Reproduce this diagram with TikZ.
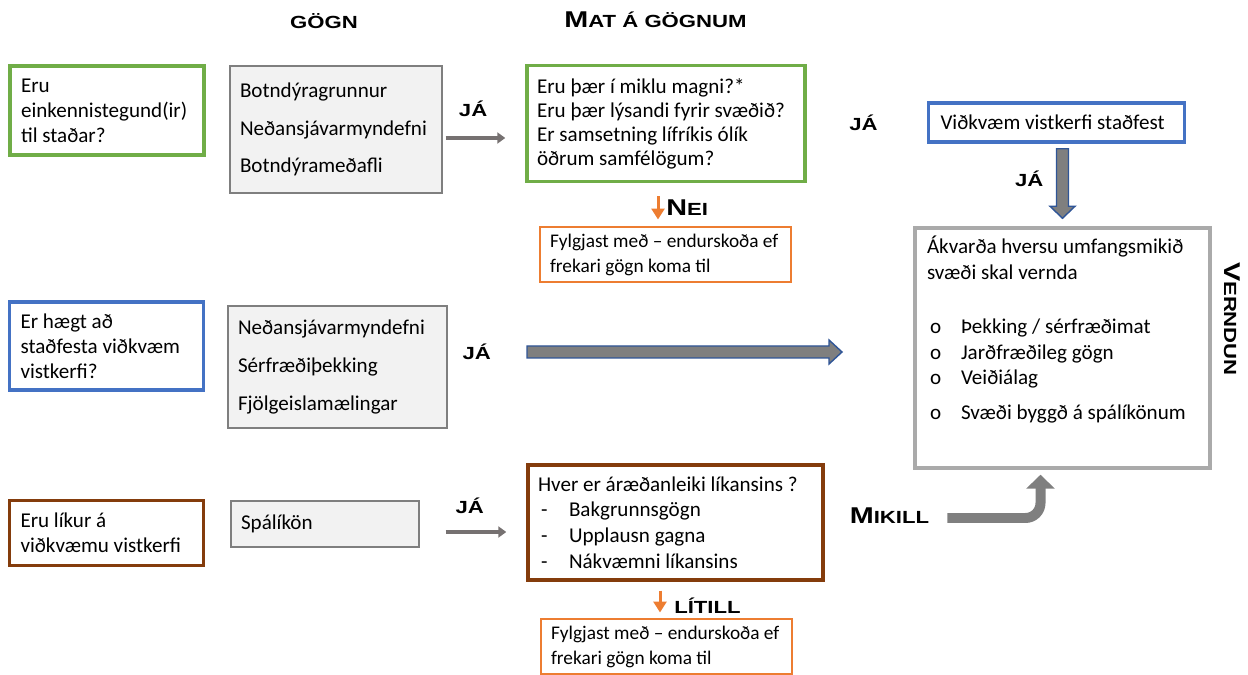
\documentclass[tikz,border=0pt]{standalone}
\usepackage{fontspec}
\setmainfont{Carlito}
\newfontfamily\capsfont[FakeStretch=1.26]{Liberation Sans}
\usetikzlibrary{arrows.meta,positioning,calc}

\definecolor{qgreen}{HTML}{70AD47}
\definecolor{qblue}{HTML}{4472C4}
\definecolor{qbrown}{HTML}{843C0C}
\definecolor{qorange}{HTML}{ED7D31}
\definecolor{dfill}{HTML}{F2F2F2}
\definecolor{dline}{HTML}{7F7F7F}
\definecolor{vgray}{HTML}{AAAAAA}
\definecolor{agray}{HTML}{767171}
\definecolor{bgray}{HTML}{7F7F7F}
\definecolor{bblue}{HTML}{2F5597}

\newcommand{\capbig}[1]{{\fontsize{13}{13}\selectfont #1}}

\tikzset{
  txt/.style={font=\fontsize{12}{14.2}\selectfont},
  qbox/.style={draw, line width=0.07cm, align=flush left, inner xsep=0.2cm, inner ysep=0pt, txt},
  databox/.style={draw=dline, fill=dfill, line width=0.6pt, align=flush left, inner xsep=0.2cm, inner ysep=0pt, font=\fontsize{12}{21.5}\selectfont},
  watchbox/.style={draw=qorange, line width=0.04cm, align=flush left, inner xsep=0.2cm, inner ysep=0pt, font=\fontsize{11}{14.2}\selectfont, text width=4.62cm, minimum height=1.12cm},
  lbl/.style={font=\capsfont\bfseries\fontsize{10}{12}\selectfont, inner sep=1pt},
  yesarrow/.style={draw=agray, line width=0.08cm, -{Triangle[width=0.22cm,length=0.16cm]}},
  noarrow/.style={draw=qorange, line width=0.06cm, -{Triangle[width=0.26cm,length=0.22cm]}},
  blockh/.style={draw=bblue, fill=bgray, line width=0.8pt,
    to path={($(\tikztostart)+(0,-6)$) -- ($(\tikztotarget)+(-13,-6)$) -- ($(\tikztotarget)+(-13,-12)$) -- (\tikztotarget)
      -- ($(\tikztotarget)+(-13,12)$) -- ($(\tikztotarget)+(-13,6)$) -- ($(\tikztostart)+(0,6)$) -- cycle}},
  blockv/.style={draw=bblue, fill=bgray, line width=0.8pt,
    to path={($(\tikztostart)+(-6,0)$) -- ($(\tikztotarget)+(-6,-12)$) -- ($(\tikztotarget)+(-12.5,-12)$) -- (\tikztotarget)
      -- ($(\tikztotarget)+(12.5,-12)$) -- ($(\tikztotarget)+(6,-12)$) -- ($(\tikztostart)+(6,0)$) -- cycle}},
  bentarrow/.style={draw=bgray, line width=0.2cm, rounded corners=0.3cm, -{Triangle[width=0.56cm,length=0.28cm]}},
}

\begin{document}
\begin{tikzpicture}[x=0.02cm, y=-0.02cm]
\useasboundingbox (0,0) rectangle (1248,675);

\node[lbl] (hdata) at (324,21) {GÖGN};
\node[lbl] (heval) at (655.5,20) {\capbig{M}AT Á GÖGNUM};

\node[qbox, draw=qgreen, text width=3.44cm, minimum height=1.78cm, inner xsep=0.22cm] (q1) at (107,110.5) {Eru\\einkennistegund(ir)\\til staðar?};
\node[databox, text width=3.84cm, minimum height=2.54cm] (d1) at (336,129.5) {Botndýragrunnur\\Neðansjávarmyndefni\\Botndýrameðafli};
\node[qbox, draw=qgreen, text width=5.16cm, minimum height=2.32cm, font=\fontsize{12}{13.7}\selectfont] (e1) at (666,123.5) {Eru þær í miklu magni?*\\Eru þær lýsandi fyrir svæðið?\\Er samsetning lífríkis ólík\\öðrum samfélögum?};
\node[watchbox] (f1) at (665.5,254.5) {Fylgjast með – endurskoða ef\\frekari gögn koma til};
\node[qbox, draw=qblue, text width=4.64cm, minimum height=0.78cm, inner xsep=0.24cm] (v) at (1056.5,122.5) {Viðkvæm vistkerfi staðfest};
\node[draw=vgray, line width=0.07cm, inner xsep=0.24cm, inner ysep=0.16cm, font=\fontsize{12}{14.5}\selectfont] (vn) at (1062.5,348) {\parbox[c][4.48cm][t]{5.42cm}{\raggedright
  Ákvarða hversu umfangsmikið\\
  svæði skal vernda\\[0.58cm]
  \hspace*{0.06cm}\makebox[0.62cm][l]{o}Þekking / sérfræðimat\\
  \hspace*{0.06cm}\makebox[0.62cm][l]{o}Jarðfræðileg gögn\\
  \hspace*{0.06cm}\makebox[0.62cm][l]{o}Veiðiálag\\[0.2cm]
  \hspace*{0.06cm}\makebox[0.62cm][l]{o}Svæði byggð á spálíkönum}};
\node[lbl, rotate=-90] (hprot) at (1232,319) {\capbig{V}ERNDUN};

\node[qbox, draw=qblue, text width=3.44cm, minimum height=1.76cm, inner xsep=0.22cm] (q2) at (106.5,346) {Er hægt að\\staðfesta viðkvæm\\vistkerfi?};
\node[databox, text width=3.98cm, minimum height=2.44cm] (d2) at (337.5,367) {Neðansjávarmyndefni\\Sérfræðiþekking\\Fjölgeislamælingar};

\node[qbox, draw=qbrown, line width=0.06cm, text width=3.44cm, minimum height=1.32cm, inner xsep=0.22cm] (q3) at (106.5,533) {Eru líkur á\\viðkvæmu vistkerfi};
\node[databox, text width=3.36cm, minimum height=0.92cm] (d3) at (325,524) {Spálíkön};
\node[qbox, draw=qbrown, text width=5.5cm, minimum height=2.3cm, font=\fontsize{12}{14.6}\selectfont] (e3) at (675.5,522.5) {Hver er áræðanleiki líkansins ?\\
  \hspace*{0.06cm}\makebox[0.56cm][l]{-}Bakgrunnsgögn\\
  \hspace*{0.06cm}\makebox[0.56cm][l]{-}Upplausn gagna\\
  \hspace*{0.06cm}\makebox[0.56cm][l]{-}Nákvæmni líkansins};
\node[watchbox] (f3) at (666.5,646.5) {Fylgjast með – endurskoða ef\\frekari gögn koma til};

\coordinate (r1) at (0,138);
\coordinate (r3) at (0,532);
\coordinate (n1) at (658,0);
\coordinate (n3) at (660,0);
\coordinate (h2s) at (527,352);
\coordinate (h2e) at (842,352);
\coordinate (vs) at ($(vn.north |- v.south)+(0,5)$);
\coordinate (ve) at ($(vn.north)+(0,-8)$);
\coordinate (vm) at ($(vs)!0.5!(ve)$);

\draw[yesarrow, shorten <=0.06cm, shorten >=0.4cm] (d1.east |- r1) -- node[lbl, pos=0.37, above=0.36cm] {JÁ} (e1.west |- r1);
\draw[yesarrow, shorten <=0.52cm, shorten >=0.4cm] (d3.east |- r3) -- node[lbl, pos=0.47, above=0.3cm] {JÁ} (e3.west |- r3);
\draw[noarrow, shorten <=0.26cm, shorten >=0.12cm] (e1.south -| n1) -- node[lbl, pos=0.58, right=0.1cm] {\capbig{N}EI} (f1.north -| n1);
\draw[noarrow, shorten <=0.18cm, shorten >=0.1cm] (e3.south -| n3) -- node[lbl, pos=0.67, right=0.22cm] {LÍTILL} (f3.north -| n3);

\draw[blockh] (h2s) to (h2e);
\node[lbl, left=0.68cm of h2s] (ja2) {JÁ};
\draw[blockv] (vs) to (ve);
\node[lbl, left=0.34cm of vm, yshift=0.1cm] (ja4) {JÁ};
\node[lbl, left=0.94cm of v] (ja3) {JÁ};

\node[lbl] (mik) at (889.5,516) {\capbig{M}IKILL};
\draw[bentarrow] ($(mik.east)+(16,2)$) -| ($(vn.south)+(-22,5)$);
\end{tikzpicture}
\end{document}
